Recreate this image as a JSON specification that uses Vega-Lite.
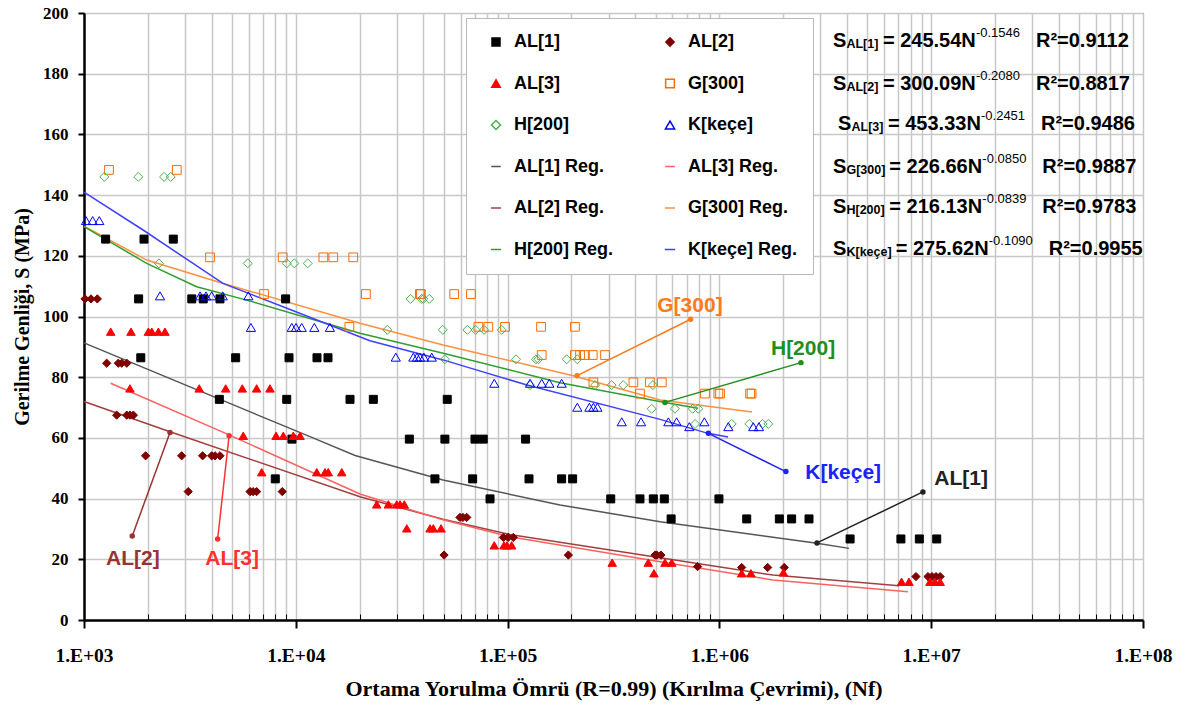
{
"$schema":"https://vega.github.io/schema/vega-lite/v6.json",
"width":1059,"height":607,"autosize":"none",
"padding":{"left":84,"top":13,"right":44,"bottom":89},
"background":"white",
"config":{"view":{"stroke":"#222222","strokeWidth":1},"font":"Liberation Sans",
"legend":{"orient":"none","legendX":382,"legendY":5,"columns":2,"direction":"horizontal","fillColor":"white","strokeColor":"#b8b8b8","padding":15,"symbolOffset":6,"labelOffset":9,"rowPadding":23.5,"columnPadding":41,"clipHeight":18,"labelFont":"Liberation Sans","labelFontSize":18,"labelFontWeight":"bold","labelColor":"black","symbolStrokeWidth":1.5,"labelLimit":300}},
"datasets":{
"pts":[
{"s":"AL[1]","N":1265,"S":125.5},{"s":"AL[1]","N":1920,"S":125.5},{"s":"AL[1]","N":2640,"S":125.5},
{"s":"AL[1]","N":1811,"S":105.8},{"s":"AL[1]","N":3228,"S":105.8},{"s":"AL[1]","N":3656,"S":105.8},{"s":"AL[1]","N":4385,"S":105.8},{"s":"AL[1]","N":8954,"S":105.8},
{"s":"AL[1]","N":1854,"S":86.4},{"s":"AL[1]","N":5200,"S":86.4},{"s":"AL[1]","N":9290,"S":86.4},{"s":"AL[1]","N":12590,"S":86.4},{"s":"AL[1]","N":14190,"S":86.4},
{"s":"AL[1]","N":4355,"S":72.7},{"s":"AL[1]","N":9060,"S":72.7},{"s":"AL[1]","N":18030,"S":72.7},{"s":"AL[1]","N":23230,"S":72.7},{"s":"AL[1]","N":51880,"S":72.7},
{"s":"AL[1]","N":9590,"S":59.6},{"s":"AL[1]","N":34360,"S":59.6},{"s":"AL[1]","N":50580,"S":59.6},{"s":"AL[1]","N":70150,"S":59.6},{"s":"AL[1]","N":76740,"S":59.6},{"s":"AL[1]","N":121600,"S":59.6},
{"s":"AL[1]","N":8000,"S":46.5},{"s":"AL[1]","N":45390,"S":46.5},{"s":"AL[1]","N":68390,"S":46.5},{"s":"AL[1]","N":126200,"S":46.5},{"s":"AL[1]","N":179900,"S":46.5},{"s":"AL[1]","N":202800,"S":46.5},
{"s":"AL[1]","N":82600,"S":39.9},{"s":"AL[1]","N":306900,"S":39.9},{"s":"AL[1]","N":421700,"S":39.9},{"s":"AL[1]","N":487500,"S":39.9},{"s":"AL[1]","N":549500,"S":39.9},{"s":"AL[1]","N":995000,"S":39.9},
{"s":"AL[1]","N":591600,"S":33.3},{"s":"AL[1]","N":1346000,"S":33.3},{"s":"AL[1]","N":1919000,"S":33.3},{"s":"AL[1]","N":2193000,"S":33.3},{"s":"AL[1]","N":2649000,"S":33.3},
{"s":"AL[1]","N":4140000,"S":26.7},{"s":"AL[1]","N":7194000,"S":26.7},{"s":"AL[1]","N":8790000,"S":26.7},{"s":"AL[1]","N":10620000,"S":26.7},
{"s":"AL[2]","N":1011,"S":105.8},{"s":"AL[2]","N":1079,"S":105.8},{"s":"AL[2]","N":1156,"S":105.8},
{"s":"AL[2]","N":1280,"S":84.6},{"s":"AL[2]","N":1452,"S":84.6},{"s":"AL[2]","N":1507,"S":84.6},{"s":"AL[2]","N":1592,"S":84.6},
{"s":"AL[2]","N":1427,"S":67.5},{"s":"AL[2]","N":1592,"S":67.5},{"s":"AL[2]","N":1648,"S":67.5},{"s":"AL[2]","N":1710,"S":67.5},
{"s":"AL[2]","N":1954,"S":54.1},{"s":"AL[2]","N":2891,"S":54.1},{"s":"AL[2]","N":3631,"S":54.1},{"s":"AL[2]","N":4008,"S":54.1},{"s":"AL[2]","N":4155,"S":54.1},{"s":"AL[2]","N":4385,"S":54.1},
{"s":"AL[2]","N":3105,"S":42.3},{"s":"AL[2]","N":6081,"S":42.3},{"s":"AL[2]","N":6281,"S":42.3},{"s":"AL[2]","N":6531,"S":42.3},{"s":"AL[2]","N":8630,"S":42.3},
{"s":"AL[2]","N":59570,"S":33.8},{"s":"AL[2]","N":61520,"S":33.8},{"s":"AL[2]","N":64120,"S":33.8},
{"s":"AL[2]","N":50120,"S":21.4},
{"s":"AL[2]","N":95500,"S":27.2},{"s":"AL[2]","N":100500,"S":27.2},{"s":"AL[2]","N":106400,"S":27.2},
{"s":"AL[2]","N":193600,"S":21.4},{"s":"AL[2]","N":496600,"S":21.4},{"s":"AL[2]","N":505800,"S":21.4},{"s":"AL[2]","N":529700,"S":21.4},
{"s":"AL[2]","N":788900,"S":17.6},{"s":"AL[2]","N":1274000,"S":17.3},{"s":"AL[2]","N":1690000,"S":17.3},{"s":"AL[2]","N":2024000,"S":17.3},
{"s":"AL[2]","N":8472000,"S":14.3},{"s":"AL[2]","N":9660000,"S":14.3},{"s":"AL[2]","N":10090000,"S":14.3},{"s":"AL[2]","N":10540000,"S":14.3},{"s":"AL[2]","N":11020000,"S":14.3},
{"s":"AL[3]","N":1337,"S":95},{"s":"AL[3]","N":1667,"S":95},{"s":"AL[3]","N":2014,"S":95},{"s":"AL[3]","N":2089,"S":95},{"s":"AL[3]","N":2245,"S":95},{"s":"AL[3]","N":2411,"S":95},
{"s":"AL[3]","N":1648,"S":76.3},{"s":"AL[3]","N":3499,"S":76.3},{"s":"AL[3]","N":4667,"S":76.3},{"s":"AL[3]","N":5589,"S":76.3},{"s":"AL[3]","N":6531,"S":76.3},{"s":"AL[3]","N":7551,"S":76.3},
{"s":"AL[3]","N":5649,"S":60.7},{"s":"AL[3]","N":8072,"S":60.7},{"s":"AL[3]","N":8730,"S":60.7},{"s":"AL[3]","N":9727,"S":60.7},{"s":"AL[3]","N":10470,"S":60.7},
{"s":"AL[3]","N":6902,"S":48.7},{"s":"AL[3]","N":12560,"S":48.7},{"s":"AL[3]","N":13740,"S":48.7},{"s":"AL[3]","N":14230,"S":48.7},{"s":"AL[3]","N":16480,"S":48.7},
{"s":"AL[3]","N":24100,"S":38.1},{"s":"AL[3]","N":27350,"S":38.1},{"s":"AL[3]","N":29950,"S":38.1},{"s":"AL[3]","N":31050,"S":38.1},{"s":"AL[3]","N":32520,"S":38.1},
{"s":"AL[3]","N":33420,"S":30.2},{"s":"AL[3]","N":43050,"S":30.2},{"s":"AL[3]","N":44570,"S":30.2},{"s":"AL[3]","N":48500,"S":30.2},
{"s":"AL[3]","N":86500,"S":24.6},{"s":"AL[3]","N":96100,"S":24.6},{"s":"AL[3]","N":99300,"S":24.6},{"s":"AL[3]","N":104500,"S":24.6},
{"s":"AL[3]","N":311900,"S":18.9},{"s":"AL[3]","N":461400,"S":18.9},{"s":"AL[3]","N":553400,"S":18.9},{"s":"AL[3]","N":595400,"S":18.9},
{"s":"AL[3]","N":490900,"S":15.4},{"s":"AL[3]","N":1274000,"S":15.4},{"s":"AL[3]","N":1409000,"S":15.4},{"s":"AL[3]","N":2005000,"S":15.7},
{"s":"AL[3]","N":7244000,"S":12.6},{"s":"AL[3]","N":7853000,"S":12.6},{"s":"AL[3]","N":9863000,"S":12.6},{"s":"AL[3]","N":10420000,"S":12.6},{"s":"AL[3]","N":11020000,"S":12.6},
{"s":"G[300]","N":1312,"S":148.3},{"s":"G[300]","N":2742,"S":148.3},
{"s":"G[300]","N":3936,"S":119.5},{"s":"G[300]","N":8670,"S":119.5},{"s":"G[300]","N":13490,"S":119.5},{"s":"G[300]","N":15030,"S":119.5},{"s":"G[300]","N":18670,"S":119.5},
{"s":"G[300]","N":7080,"S":107.4},{"s":"G[300]","N":21430,"S":107.4},{"s":"G[300]","N":38550,"S":107.4},{"s":"G[300]","N":38990,"S":107.4},{"s":"G[300]","N":55980,"S":107.4},{"s":"G[300]","N":67140,"S":107.4},
{"s":"G[300]","N":17910,"S":96.6},{"s":"G[300]","N":72780,"S":96.6},{"s":"G[300]","N":81110,"S":96.6},{"s":"G[300]","N":97250,"S":96.6},{"s":"G[300]","N":143900,"S":96.6},{"s":"G[300]","N":208000,"S":96.6},
{"s":"G[300]","N":144900,"S":87.3},{"s":"G[300]","N":208000,"S":87.3},{"s":"G[300]","N":219800,"S":87.3},{"s":"G[300]","N":231700,"S":87.3},{"s":"G[300]","N":252300,"S":87.3},{"s":"G[300]","N":288400,"S":87.3},
{"s":"G[300]","N":254100,"S":78.3},{"s":"G[300]","N":392600,"S":78.3},{"s":"G[300]","N":469900,"S":78.3},{"s":"G[300]","N":534600,"S":78.3},
{"s":"G[300]","N":421700,"S":74.6},{"s":"G[300]","N":855000,"S":74.6},{"s":"G[300]","N":988600,"S":74.6},{"s":"G[300]","N":1007000,"S":74.6},{"s":"G[300]","N":1396000,"S":74.6},{"s":"G[300]","N":1419000,"S":74.6},
{"s":"H[200]","N":1247,"S":146},{"s":"H[200]","N":1803,"S":146},{"s":"H[200]","N":2388,"S":146},{"s":"H[200]","N":2567,"S":146},
{"s":"H[200]","N":2259,"S":117.5},{"s":"H[200]","N":5930,"S":117.5},{"s":"H[200]","N":9060,"S":117.5},{"s":"H[200]","N":9840,"S":117.5},{"s":"H[200]","N":11380,"S":117.5},
{"s":"H[200]","N":34830,"S":105.8},{"s":"H[200]","N":39260,"S":105.8},{"s":"H[200]","N":39990,"S":105.8},{"s":"H[200]","N":42660,"S":105.8},
{"s":"H[200]","N":27040,"S":95.6},{"s":"H[200]","N":49430,"S":95.6},{"s":"H[200]","N":64570,"S":95.6},{"s":"H[200]","N":70630,"S":95.6},{"s":"H[200]","N":77450,"S":95.6},{"s":"H[200]","N":93760,"S":95.6},
{"s":"H[200]","N":50580,"S":85.9},{"s":"H[200]","N":109600,"S":85.9},{"s":"H[200]","N":136200,"S":85.9},{"s":"H[200]","N":139700,"S":85.9},{"s":"H[200]","N":190100,"S":85.9},{"s":"H[200]","N":213400,"S":85.9},
{"s":"H[200]","N":127600,"S":77.4},{"s":"H[200]","N":258800,"S":77.4},{"s":"H[200]","N":309900,"S":77.4},{"s":"H[200]","N":351600,"S":77.4},{"s":"H[200]","N":485300,"S":77.4},
{"s":"H[200]","N":478600,"S":69.6},{"s":"H[200]","N":616600,"S":69.6},{"s":"H[200]","N":748200,"S":69.6},{"s":"H[200]","N":794300,"S":69.6},
{"s":"H[200]","N":767400,"S":64.6},{"s":"H[200]","N":1143000,"S":64.6},{"s":"H[200]","N":1384000,"S":64.6},{"s":"H[200]","N":1600000,"S":64.6},{"s":"H[200]","N":1702000,"S":64.6},
{"s":"K[keçe]","N":1022,"S":131.6},{"s":"K[keçe]","N":1099,"S":131.6},{"s":"K[keçe]","N":1181,"S":131.6},
{"s":"K[keçe]","N":2285,"S":106.8},{"s":"K[keçe]","N":3532,"S":106.8},{"s":"K[keçe]","N":3767,"S":106.8},{"s":"K[keçe]","N":4008,"S":106.8},{"s":"K[keçe]","N":4519,"S":106.8},{"s":"K[keçe]","N":5972,"S":106.8},
{"s":"K[keçe]","N":6138,"S":96.4},{"s":"K[keçe]","N":9572,"S":96.4},{"s":"K[keçe]","N":10020,"S":96.4},{"s":"K[keçe]","N":10660,"S":96.4},{"s":"K[keçe]","N":12230,"S":96.4},{"s":"K[keçe]","N":14490,"S":96.4},
{"s":"K[keçe]","N":29650,"S":86.6},{"s":"K[keçe]","N":35890,"S":86.6},{"s":"K[keçe]","N":37330,"S":86.6},{"s":"K[keçe]","N":38550,"S":86.6},{"s":"K[keçe]","N":40270,"S":86.6},{"s":"K[keçe]","N":43850,"S":86.6},
{"s":"K[keçe]","N":86500,"S":78},{"s":"K[keçe]","N":127600,"S":78},{"s":"K[keçe]","N":144900,"S":78},{"s":"K[keçe]","N":157400,"S":78},{"s":"K[keçe]","N":179900,"S":78},
{"s":"K[keçe]","N":213400,"S":70.1},{"s":"K[keçe]","N":243200,"S":70.1},{"s":"K[keçe]","N":254100,"S":70.1},{"s":"K[keçe]","N":265500,"S":70.1},
{"s":"K[keçe]","N":345900,"S":65.3},{"s":"K[keçe]","N":426600,"S":65.3},{"s":"K[keçe]","N":574100,"S":65.3},{"s":"K[keçe]","N":628100,"S":65.3},{"s":"K[keçe]","N":849200,"S":65.3},
{"s":"K[keçe]","N":721100,"S":63.7},{"s":"K[keçe]","N":1102000,"S":63.7},{"s":"K[keçe]","N":1445000,"S":63.7},{"s":"K[keçe]","N":1538000,"S":63.7}
],
"reg":[
{"s":"AL[1] Reg.","N":1000,"S":91.3},{"s":"AL[1] Reg.","N":12050,"S":60},{"s":"AL[1] Reg.","N":19050,"S":54.2},{"s":"AL[1] Reg.","N":49550,"S":46.1},{"s":"AL[1] Reg.","N":176700,"S":37.9},{"s":"AL[1] Reg.","N":524800,"S":32.4},{"s":"AL[1] Reg.","N":2890000,"S":25.3},{"s":"AL[1] Reg.","N":4090000,"S":23.6},
{"s":"AL[2] Reg.","N":1000,"S":72},{"s":"AL[2] Reg.","N":2547,"S":62},{"s":"AL[2] Reg.","N":20090,"S":40.6},{"s":"AL[2] Reg.","N":49550,"S":33.2},{"s":"AL[2] Reg.","N":102500,"S":28.2},{"s":"AL[2] Reg.","N":524800,"S":20.5},{"s":"AL[2] Reg.","N":1791000,"S":14.8},{"s":"AL[2] Reg.","N":7047000,"S":11.3},
{"s":"AL[3] Reg.","N":1337,"S":78},{"s":"AL[3] Reg.","N":4842,"S":61},{"s":"AL[3] Reg.","N":20090,"S":41.5},{"s":"AL[3] Reg.","N":49550,"S":33},{"s":"AL[3] Reg.","N":102500,"S":27.4},{"s":"AL[3] Reg.","N":524800,"S":19.2},{"s":"AL[3] Reg.","N":1791000,"S":13.2},{"s":"AL[3] Reg.","N":7762000,"S":9.3},
{"s":"G[300] Reg.","N":1000,"S":129.8},{"s":"G[300] Reg.","N":1977,"S":118.6},{"s":"G[300] Reg.","N":4550,"S":110.9},{"s":"G[300] Reg.","N":20090,"S":97.8},{"s":"G[300] Reg.","N":49660,"S":90.6},{"s":"G[300] Reg.","N":204200,"S":80.5},{"s":"G[300] Reg.","N":524800,"S":72.5},{"s":"G[300] Reg.","N":1426000,"S":68.5},
{"s":"H[200] Reg.","N":1000,"S":129.6},{"s":"H[200] Reg.","N":1977,"S":117.5},{"s":"H[200] Reg.","N":3404,"S":109.8},{"s":"H[200] Reg.","N":5860,"S":105.4},{"s":"H[200] Reg.","N":20090,"S":94.5},{"s":"H[200] Reg.","N":49660,"S":87.9},{"s":"H[200] Reg.","N":176700,"S":78.2},{"s":"H[200] Reg.","N":553400,"S":71.7},{"s":"H[200] Reg.","N":792600,"S":69.8},
{"s":"K[keçe] Reg.","N":1000,"S":141},{"s":"K[keçe] Reg.","N":1901,"S":128.5},{"s":"K[keçe] Reg.","N":4529,"S":110.9},{"s":"K[keçe] Reg.","N":9079,"S":102.7},{"s":"K[keçe] Reg.","N":22380,"S":92},{"s":"K[keçe] Reg.","N":49550,"S":85.7},{"s":"K[keçe] Reg.","N":123600,"S":77.4},{"s":"K[keçe] Reg.","N":524800,"S":66.1},{"s":"K[keçe] Reg.","N":883100,"S":61.5},{"s":"K[keçe] Reg.","N":1099000,"S":60.3}
],
"leaders":[
{"s":"AL[1] Reg.","N":2890000,"S":25.4},{"s":"AL[1] Reg.","N":9140000,"S":42.2},
{"s":"AL[2] Reg.","N":2547,"S":61.8},{"s":"AL[2] Reg.","N":1690,"S":27.7},
{"s":"AL[3] Reg.","N":4842,"S":60.7},{"s":"AL[3] Reg.","N":4276,"S":26.7},
{"s":"G[300] Reg.","N":212800,"S":80.5},{"s":"G[300] Reg.","N":731000,"S":99.1},
{"s":"H[200] Reg.","N":553400,"S":71.7},{"s":"H[200] Reg.","N":2427000,"S":84.8},
{"s":"K[keçe] Reg.","N":887000,"S":61.5},{"s":"K[keçe] Reg.","N":2060000,"S":48.9}
],
"labels":[
{"s":"AL[1] Reg.","label":"AL[1]","N":13840000,"S":46.6},{"s":"AL[2] Reg.","label":"AL[2]","N":1702,"S":20.1},{"s":"AL[3] Reg.","label":"AL[3]","N":5000,"S":20.1},
{"s":"G[300] Reg.","label":"G[300]","N":726000,"S":103.5},{"s":"H[200] Reg.","label":"H[200]","N":2483000,"S":89.4},{"s":"K[keçe] Reg.","label":"K[keçe]","N":3840000,"S":48.4}
],
"eqs":[
{"sub":"AL[1]","eq":"= 245.54N","exp":"-0.1546","r2":"R²=0.9112","N":3436000,"S":188.7},
{"sub":"AL[2]","eq":"= 300.09N","exp":"-0.2080","r2":"R²=0.8817","N":3436000,"S":174.5},
{"sub":"AL[3]","eq":"= 453.33N","exp":"-0.2451","r2":"R²=0.9486","N":3630000,"S":161.4},
{"sub":"G[300]","eq":"= 226.66N","exp":"-0.0850","r2":"R²=0.9887","N":3436000,"S":147.4},
{"sub":"H[200]","eq":"= 216.13N","exp":"-0.0839","r2":"R²=0.9783","N":3436000,"S":134.2},
{"sub":"K[keçe]","eq":"= 275.62N","exp":"-0.1090","r2":"R²=0.9955","N":3436000,"S":120.3}
]
},
"encoding":{
"x":{"field":"N","type":"quantitative","scale":{"type":"log","domain":[1000,100000000],"nice":false},
"axis":{"values":[1000,2000,3000,4000,5000,6000,7000,8000,9000,10000,20000,30000,40000,50000,60000,70000,80000,90000,100000,200000,300000,400000,500000,600000,700000,800000,900000,1000000,2000000,3000000,4000000,5000000,6000000,7000000,8000000,9000000,10000000,20000000,30000000,40000000,50000000,60000000,70000000,80000000,90000000,100000000],
"title":"Ortama Yorulma Ömrü (R=0.99) (Kırılma Çevrimi), (Nf)",
"labelExpr":"abs(log(datum.value)/LN10 - round(log(datum.value)/LN10)) < 0.001 ? '1.E+0' + round(log(datum.value)/LN10) : ''",
"labelOverlap":false,"labelFlush":false,"grid":true,"gridColor":"#c8c8c8","gridWidth":1.5,
"domainColor":"black","domainWidth":2.5,"tickColor":"black",
"tickWidth":{"condition":{"test":"abs(log(datum.value)/LN10 - round(log(datum.value)/LN10)) < 0.001","value":2},"value":1},
"tickSize":{"condition":{"test":"abs(log(datum.value)/LN10 - round(log(datum.value)/LN10)) < 0.001","value":8},"value":-6},
"labelFont":"Liberation Serif","labelFontSize":19.5,"labelFontWeight":"bold","labelColor":"black","labelPadding":18,
"titleFont":"Liberation Serif","titleFontSize":22,"titleFontWeight":"bold","titleColor":"black","titlePadding":14}},
"y":{"field":"S","type":"quantitative","scale":{"domain":[0,200],"nice":false},
"axis":{"values":[0,20,40,60,80,100,120,140,160,180,200],"title":"Gerilme Genliği, S (MPa)",
"grid":true,"gridColor":"#c8c8c8","gridWidth":1.5,"domainColor":"black","domainWidth":2.5,"tickColor":"black","tickWidth":2,"tickSize":6,
"labelFont":"Liberation Serif","labelFontSize":17,"labelFontWeight":"bold","labelColor":"black","labelPadding":10,
"titleFont":"Liberation Serif","titleFontSize":20,"titleFontWeight":"bold","titleColor":"black","titlePadding":10}}
},
"layer":[
{"data":{"name":"reg"},"mark":{"type":"line","strokeWidth":1.5},
"encoding":{"stroke":{"field":"s","type":"nominal"}}},
{"data":{"name":"pts"},"mark":{"type":"point","filled":true,"strokeWidth":1,"opacity":1},
"encoding":{
"shape":{"field":"s","type":"nominal","scale":{"domain":["AL[1]","AL[2]","AL[3]","G[300]","H[200]","K[keçe]","AL[1] Reg.","AL[3] Reg.","AL[2] Reg.","G[300] Reg.","H[200] Reg.","K[keçe] Reg."],"range":["square","diamond","triangle-up","square","diamond","triangle-up","stroke","stroke","stroke","stroke","stroke","stroke"]},"legend":{"title":null}},
"stroke":{"field":"s","type":"nominal","scale":{"domain":["AL[1]","AL[2]","AL[3]","G[300]","H[200]","K[keçe]","AL[1] Reg.","AL[3] Reg.","AL[2] Reg.","G[300] Reg.","H[200] Reg.","K[keçe] Reg."],"range":["#000000","#7f0000","#ff0000","#ff6a00","#4caf50","#0000ff","#555555","#ff6060","#a04040","#ff9040","#2e9e2e","#4040ff"]},"legend":{"title":null}},
"fill":{"field":"s","type":"nominal","scale":{"domain":["AL[1]","AL[2]","AL[3]","G[300]","H[200]","K[keçe]","AL[1] Reg.","AL[3] Reg.","AL[2] Reg.","G[300] Reg.","H[200] Reg.","K[keçe] Reg."],"range":["#000000","#7f0000","#ff0000","transparent","transparent","transparent","#555555","#ff6060","#a04040","#ff9040","#2e9e2e","#4040ff"]},"legend":{"title":null}},
"size":{"field":"s","type":"nominal","scale":{"domain":["AL[1]","AL[2]","AL[3]","G[300]","H[200]","K[keçe]","AL[1] Reg.","AL[3] Reg.","AL[2] Reg.","G[300] Reg.","H[200] Reg.","K[keçe] Reg."],"range":[64,110,95,81,100,90,841,841,841,841,841,841]},"legend":{"title":null}}
}},
{"data":{"name":"leaders"},"mark":{"type":"line","strokeWidth":1.5},
"encoding":{"color":{"field":"s","type":"nominal","scale":{"domain":["AL[1] Reg.","AL[2] Reg.","AL[3] Reg.","G[300] Reg.","H[200] Reg.","K[keçe] Reg."],"range":["#222222","#993333","#ff3030","#ff7a1a","#1f8f1f","#2020ff"]},"legend":null}}},
{"data":{"name":"leaders"},"mark":{"type":"point","filled":true,"shape":"circle","size":30,"opacity":1,"strokeWidth":0},
"encoding":{"color":{"field":"s","type":"nominal","legend":null}}},
{"data":{"name":"labels"},"mark":{"type":"text","font":"Liberation Sans","fontSize":21,"fontWeight":"bold","align":"center","baseline":"middle"},
"encoding":{"text":{"field":"label"},"color":{"field":"s","type":"nominal","legend":null}}},
{"data":{"name":"eqs"},"mark":{"type":"text","font":"Liberation Sans","fontSize":20,"fontWeight":"bold","align":"left","baseline":"alphabetic","color":"black"},
"encoding":{"text":{"value":"S"}}},
{"data":{"name":"eqs"},"mark":{"type":"text","font":"Liberation Sans","fontSize":12.5,"fontWeight":"bold","align":"left","baseline":"alphabetic","color":"black","dx":13.5,"dy":1},
"encoding":{"text":{"field":"sub"}}},
{"data":{"name":"eqs"},"mark":{"type":"text","font":"Liberation Sans","fontSize":20,"fontWeight":"bold","align":"left","baseline":"alphabetic","color":"black","dx":{"expr":"18 + 6.4*length(datum.sub)"}},
"encoding":{"text":{"field":"eq"}}},
{"data":{"name":"eqs"},"mark":{"type":"text","font":"Liberation Sans","fontSize":13,"fontWeight":"normal","align":"left","baseline":"alphabetic","color":"black","dy":-10,"dx":{"expr":"18 + 6.4*length(datum.sub) + 93"}},
"encoding":{"text":{"field":"exp"}}},
{"data":{"name":"eqs"},"mark":{"type":"text","font":"Liberation Sans","fontSize":20,"fontWeight":"bold","align":"left","baseline":"alphabetic","color":"black","dx":{"expr":"18 + 6.4*length(datum.sub) + 153"}},
"encoding":{"text":{"field":"r2"}}}
]
}
